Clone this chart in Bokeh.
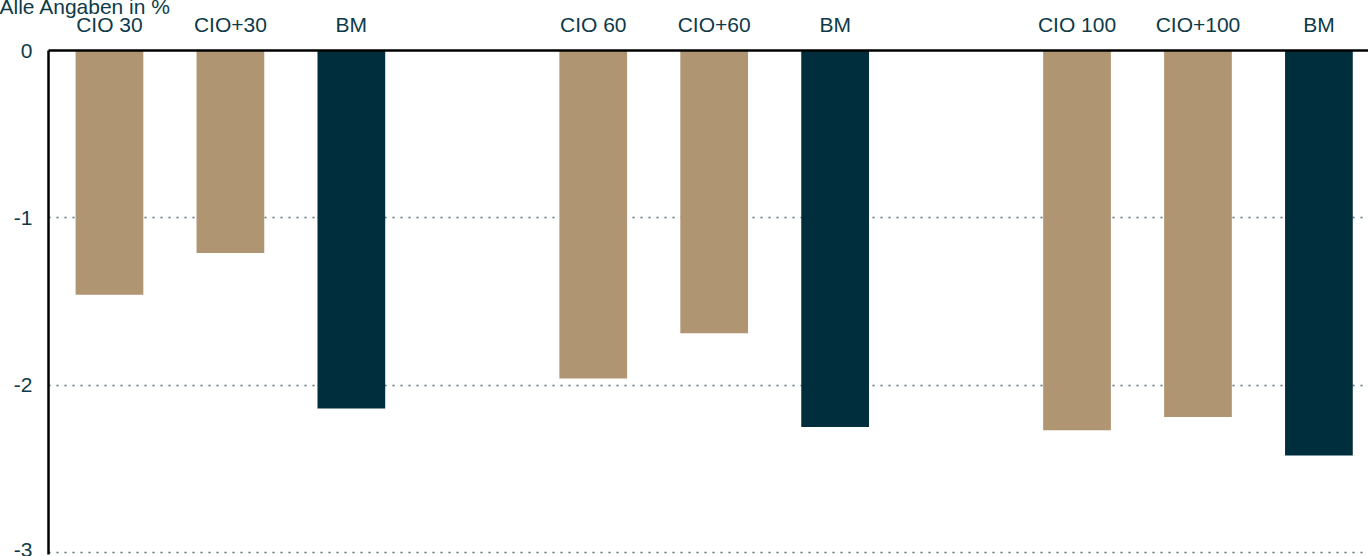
from bokeh.plotting import figure
from bokeh.models import Range1d, FixedTicker, ColumnDataSource
from bokeh.embed import file_html
from bokeh.resources import INLINE

# ---- data ----
labels = ["CIO 30", "CIO+30", "BM", "CIO 60", "CIO+60", "BM", "CIO 100", "CIO+100", "BM"]
positions = [0, 1, 2, 4, 5, 6, 8, 9, 10]
values = [-1.46, -1.21, -2.14, -1.96, -1.69, -2.25, -2.27, -2.19, -2.42]
is_benchmark = [False, False, True, False, False, True, False, False, True]
y_ticks = [0, -1, -2, -3]
unit_note = "Alle Angaben in %"

TAN = "#B09573"
DARK = "#002E3D"
TEXT = "#0E3A48"
FONT = "Liberation Sans"
FS = "21px"

W, H = 1368, 556
TOP, BOTTOM, LEFT = 50, 2, 48

colors = [DARK if b else TAN for b in is_benchmark]
src = ColumnDataSource(dict(x=positions, top=[0] * len(values), bottom=values, color=colors))

p = figure(width=W, height=H, output_backend="svg", toolbar_location=None,
           x_range=Range1d(-0.504, 10.41), y_range=Range1d(-3.012, 0),
           x_axis_location="above", min_border_left=LEFT, min_border_top=TOP,
           min_border_bottom=BOTTOM, min_border_right=0)
p.outline_line_color = None
p.background_fill_color = "white"
p.border_fill_color = "white"

p.vbar(x="x", top="top", bottom="bottom", width=0.56, color="color", source=src, line_color=None)

# top axis with category labels
xa = p.xaxis[0]
xa.ticker = FixedTicker(ticks=positions)
xa.major_label_overrides = {pos: lab for pos, lab in zip(positions, labels)}
xa.major_tick_line_color = None
xa.minor_tick_line_color = None
xa.major_tick_out = 0
xa.major_tick_in = 0
xa.axis_line_color = "black"
xa.axis_line_width = 2.5
xa.major_label_standoff = 15
xa.major_label_text_font = FONT
xa.major_label_text_font_size = FS
xa.major_label_text_color = TEXT

ya = p.yaxis[0]
ya.ticker = FixedTicker(ticks=y_ticks)
ya.major_label_overrides = {t: str(t) for t in y_ticks}
ya.major_tick_line_color = None
ya.minor_tick_line_color = None
ya.major_tick_out = 0
ya.major_tick_in = 0
ya.axis_line_color = "black"
ya.axis_line_width = 2.5
ya.major_label_standoff = 16
ya.major_label_text_font = FONT
ya.major_label_text_font_size = FS
ya.major_label_text_color = TEXT

p.xgrid.grid_line_color = None
p.ygrid.ticker = FixedTicker(ticks=y_ticks)
p.ygrid.grid_line_color = "#4E7278"
p.ygrid.grid_line_dash = "2 6"
p.ygrid.grid_line_width = 1.6

# unit note as the plot title, pushed as high as the layout allows at the top-left
p.title.text = unit_note
p.title.align = "left"
p.title.offset = -49
p.title.standoff = -17
p.title.text_font = FONT
p.title.text_font_size = FS
p.title.text_font_style = "normal"
p.title.text_color = TEXT

open("out.html", "w").write(file_html(p, INLINE))
